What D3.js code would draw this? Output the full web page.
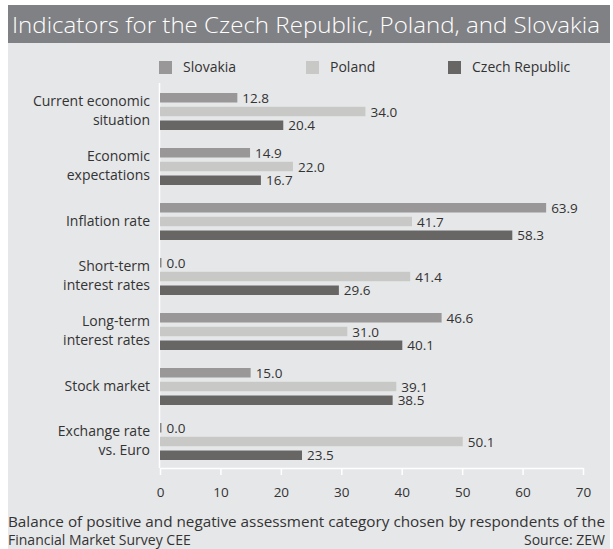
<!DOCTYPE html>
<html>
<head>
<meta charset="utf-8">
<script src="https://cdn.jsdelivr.net/npm/d3@7"></script>
<style>
  body { margin: 0; background: #fff; }
  svg { display: block; }
  .cat { font-family: "Open Sans", sans-serif; font-size: 14px; fill: #333; }
  .val { font-family: "Open Sans", sans-serif; font-size: 13.5px; fill: #333; }
  .leg { font-family: "Open Sans", sans-serif; font-size: 14px; fill: #333; }
  .axis text { font-family: "Open Sans", sans-serif; font-size: 13.5px; fill: #333; }
  .note { font-family: "Open Sans", sans-serif; font-size: 14px; fill: #333; }
</style>
</head>
<body>
<script>
var width = 613;
var height = 549;

// data
var categories = ["Current economic situation", "Economic expectations", "Inflation rate",
                  "Short-term interest rates", "Long-term interest rates", "Stock market",
                  "Exchange rate vs. Euro"];
var categoryLines = [["Current economic", "situation"], ["Economic", "expectations"], ["Inflation rate"],
                     ["Short-term", "interest rates"], ["Long-term", "interest rates"], ["Stock market"],
                     ["Exchange rate", "vs. Euro"]];
var seriesNames = ["Slovakia", "Poland", "Czech Republic"];
var slovakia = [12.8, 14.9, 63.9, 0.0, 46.6, 15.0, 0.0];
var poland = [34.0, 22.0, 41.7, 41.4, 31.0, 39.1, 50.1];
var czech = [20.4, 16.7, 58.3, 29.6, 40.1, 38.5, 23.5];
var xTicks = [0, 10, 20, 30, 40, 50, 60, 70];
var colors = ["#999797", "#c8c8c6", "#686664"];

var seriesValues = [slovakia, poland, czech];

var svg = d3.select("body")
            .append("svg")
            .attr("width", width)
            .attr("height", height);

// panel background and title bar
svg.append("rect")
   .attr("x", 8).attr("y", 43)
   .attr("width", 602).attr("height", height - 43)
   .attr("fill", "#e6e7e9");

svg.append("rect")
   .attr("x", 8).attr("y", 5)
   .attr("width", 602).attr("height", 38)
   .attr("fill", "#808184");

svg.append("text")
   .attr("x", 12).attr("y", 33)
   .attr("font-family", "Open Sans, sans-serif")
   .attr("font-size", "22px")
   .attr("font-weight", 300)
   .attr("fill", "#fff")
   .attr("textLength", 588)
   .attr("lengthAdjust", "spacingAndGlyphs")
   .text("Indicators for the Czech Republic, Poland, and Slovakia");

// scales
var xScale = d3.scaleLinear()
               .domain([0, 70])
               .range([160, 583]);

var yScale = d3.scaleBand()
               .domain(categories)
               .range([84, 469])
               .paddingInner(18 / 55)
               .paddingOuter(9 / 55);

var ySub = d3.scaleBand()
             .domain(seriesNames)
             .range([0, yScale.bandwidth()])
             .paddingInner(0.31);

// x axis (white, ticks pointing down)
var xAxis = d3.axisBottom(xScale)
              .tickValues(xTicks)
              .tickSize(7)
              .tickPadding(12)
              .tickSizeOuter(0);

var gx = svg.append("g")
            .attr("class", "axis")
            .attr("transform", "translate(0,468)")
            .call(xAxis);
gx.select(".domain").attr("stroke", "#fff").attr("stroke-width", 1.5);
gx.selectAll(".tick line").attr("stroke", "#fff").attr("stroke-width", 1.5);

// vertical axis line
svg.append("line")
   .attr("x1", xScale(0) - 0.5).attr("x2", xScale(0) - 0.5)
   .attr("y1", 83).attr("y2", 468)
   .attr("stroke", "#fff").attr("stroke-width", 1.5);

// bars
var groups = svg.selectAll(".grp")
                .data(categories)
                .enter()
                .append("g")
                .attr("class", "grp")
                .attr("transform", function(d) { return "translate(0," + yScale(d) + ")"; });

groups.each(function(cat, i) {
  var g = d3.select(this);
  seriesNames.forEach(function(s, j) {
    var v = seriesValues[j][i];
    var w = Math.max(xScale(v) - xScale(0), 1.5);
    g.append("rect")
     .attr("x", xScale(0))
     .attr("y", ySub(s))
     .attr("width", w)
     .attr("height", ySub.bandwidth())
     .attr("fill", v === 0 ? "#8a8886" : colors[j]);
    g.append("text")
     .attr("class", "val")
     .attr("x", xScale(0) + w + 5)
     .attr("y", ySub(s) + ySub.bandwidth() / 2 + 5)
     .text(v.toFixed(1));
  });
});

// category labels
categories.forEach(function(cat, i) {
  var lines = categoryLines[i];
  var cy = yScale(cat) + yScale.bandwidth() / 2;
  var lh = 19;
  var t = svg.append("text")
             .attr("class", "cat")
             .attr("text-anchor", "end");
  lines.forEach(function(line, k) {
    t.append("tspan")
     .attr("x", 150)
     .attr("y", cy + 4 + (k - (lines.length - 1) / 2) * lh)
     .text(line);
  });
});

// legend
var legX = [159, 306, 448];
seriesNames.forEach(function(s, j) {
  svg.append("rect")
     .attr("x", legX[j]).attr("y", 61)
     .attr("width", 13).attr("height", 13)
     .attr("fill", colors[j]);
  svg.append("text")
     .attr("class", "leg")
     .attr("x", legX[j] + 24).attr("y", 72)
     .text(s);
});

// footnote
svg.append("text")
   .attr("class", "note")
   .attr("x", 8).attr("y", 527)
   .attr("textLength", 597)
   .attr("lengthAdjust", "spacingAndGlyphs")
   .text("Balance of positive and negative assessment category chosen by respondents of the");
svg.append("text")
   .attr("class", "note")
   .attr("x", 8).attr("y", 545)
   .text("Financial Market Survey CEE");
svg.append("text")
   .attr("class", "note")
   .attr("x", 605).attr("y", 545)
   .attr("text-anchor", "end")
   .text("Source: ZEW");
</script>
</body>
</html>
